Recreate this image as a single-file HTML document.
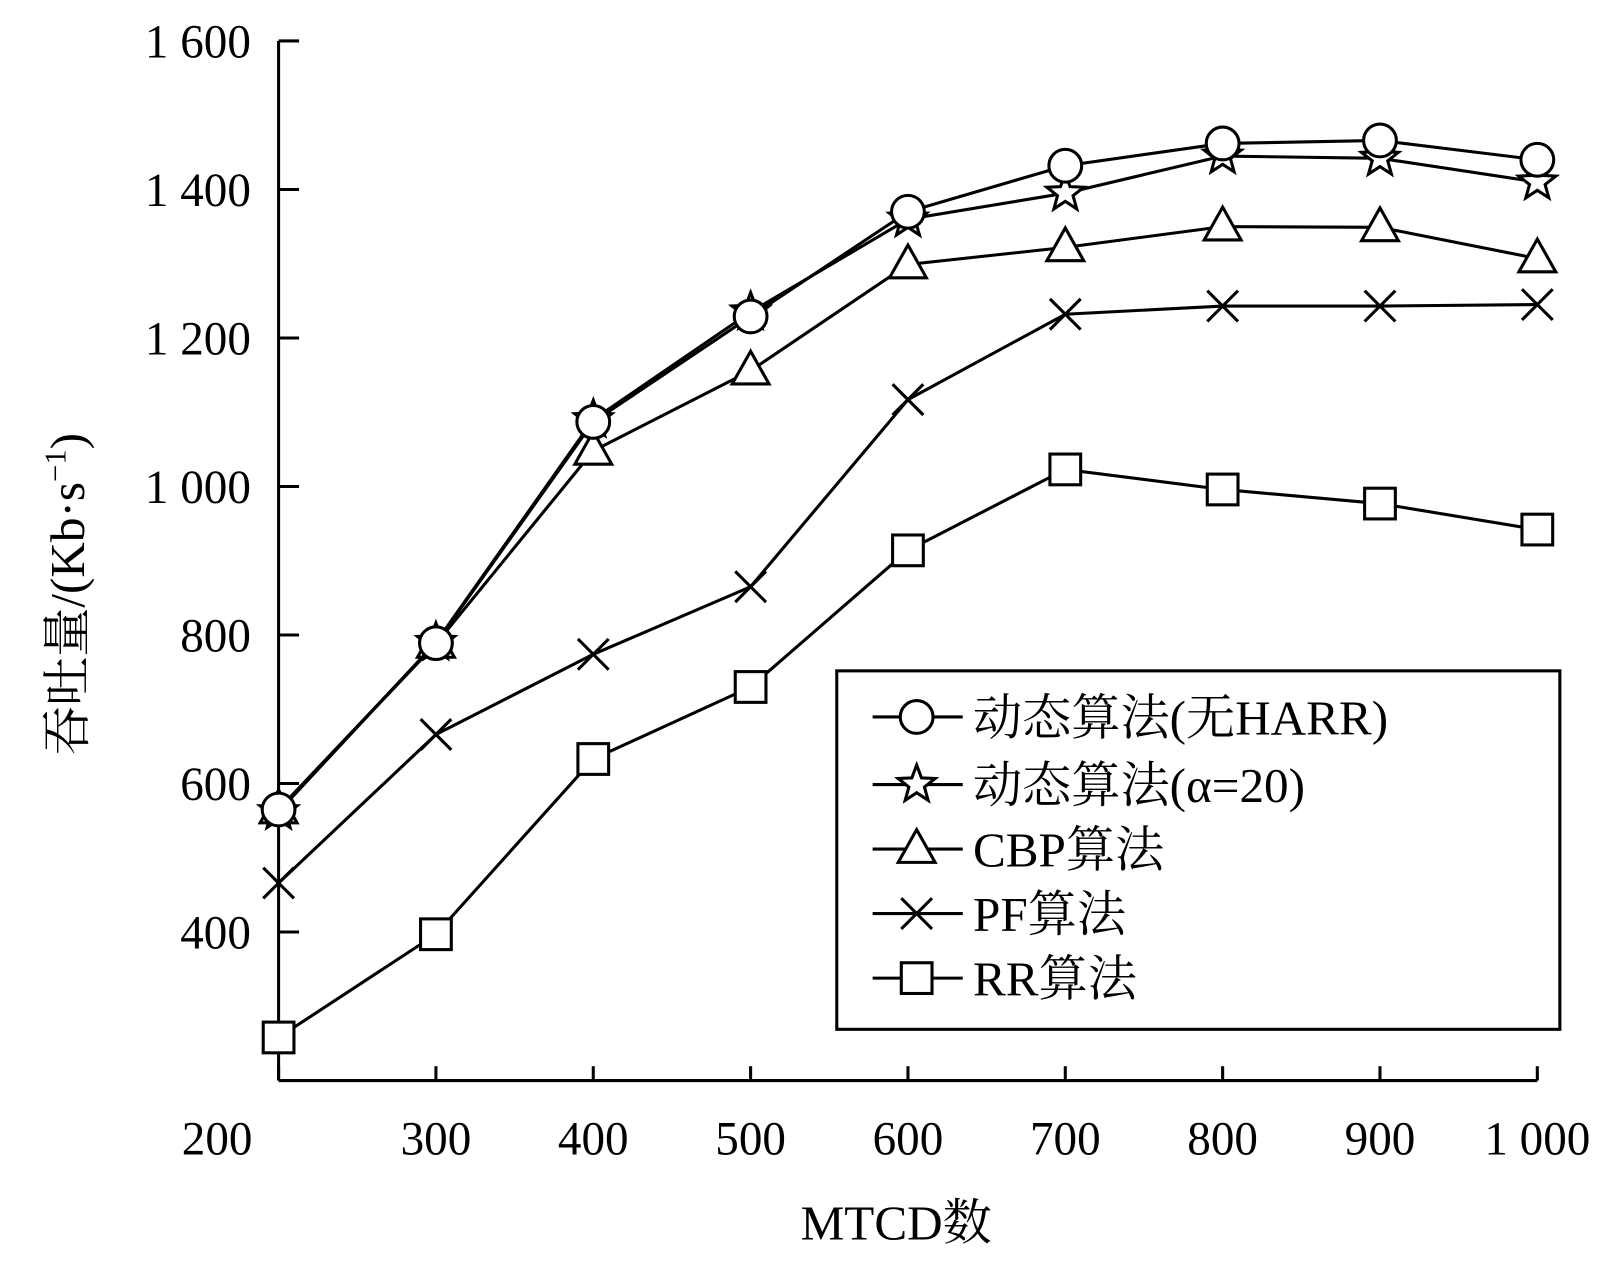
<!DOCTYPE html>
<html><head><meta charset="utf-8"><style>
html,body{margin:0;padding:0;background:#fff;}
svg text{font-family:"Liberation Serif","Noto Serif CJK SC",serif;fill:#000;}
</style></head><body>
<svg id="chart" width="1606" height="1257" viewBox="0 0 1606 1257" xmlns="http://www.w3.org/2000/svg">
<g transform="scale(1.0242)">
<g id="axes"></g>
<g id="series"></g>
<g id="legend"></g>
</g>
</svg>
<script>
const categories = [200,300,400,500,600,700,800,900,1000];
const dynNoHarr = [565,789,1087,1229,1370,1432,1462,1466,1440];
const dynAlpha = [562,790,1090,1235,1360,1395,1445,1442,1410];
const cbp = [565,788,1048,1156,1299,1322,1350,1349,1307];
const pf = [466,666,774,865,1117,1232,1243,1243,1245];
const rr = [258,397,633,730,914,1023,996,977,942];
const yTicks = [400,600,800,1000,1200,1400,1600];
const yTickLabels = ["400","600","800","1 000","1 200","1 400","1 600"];
const xTickLabels = ["200","300","400","500","600","700","800","900","1 000"];
const seriesNames = ["动态算法(无HARR)","动态算法(α=20)","CBP算法","PF算法","RR算法"];

const NS="http://www.w3.org/2000/svg";
const x0=272,x1=1501,y0=1055,y1=40;
function xs(v){return x0+(v-200)/(1000-200)*(x1-x0);}
function ys(v){return y0-(v-200)/(1600-200)*(y0-y1);}
function mk(tag,attrs,parent){const e=document.createElementNS(NS,tag);for(const k in attrs)e.setAttribute(k,attrs[k]);parent.appendChild(e);return e;}
const axes=document.getElementById('axes'),ser=document.getElementById('series'),leg=document.getElementById('legend');
const st={stroke:'#000','stroke-width':3,fill:'none'};

let a=mk('line',{x1:x0,y1:y1,x2:x0,y2:y0,...st},axes);


a=mk('line',{x1:x0,y1:y0,x2:x1,y2:y0,...st},axes);


yTicks.forEach((v,i)=>{
  let t=mk('line',{x1:x0,y1:ys(v),x2:x0+20,y2:ys(v),...st},axes);
  
  
  let l=mk('text',{x:245,y:ys(v)+16,'text-anchor':'end','font-size':46},axes);
  l.textContent=yTickLabels[i];
  
  
});
categories.forEach((v,i)=>{
  let t=mk('line',{x1:xs(v),y1:y0,x2:xs(v),y2:y0-14,...st},axes);
  
  
  let lx=i===0?xs(v)-60:xs(v);
  let l=mk('text',{x:lx,y:1127,'text-anchor':'middle','font-size':46},axes);
  l.textContent=xTickLabels[i];
  
  
});
let xt=mk('text',{x:875,y:1210,'text-anchor':'middle','font-size':48},axes);
xt.textContent='MTCD数';


let yt=mk('text',{x:0,y:0,'text-anchor':'middle','font-size':48,transform:'translate(82,580) rotate(-90)'},axes);
yt.innerHTML='吞吐量/(Kb·s<tspan dy="-18" font-size="30">−1</tspan><tspan dy="18">)</tspan>';



function marker(type,cx,cy,parent){
  let e;
  if(type==='circle')e=mk('circle',{cx:cx,cy:cy,r:16,...st,fill:'#fff'},parent);
  else if(type==='star'){let p=[];for(let k=0;k<10;k++){let r=k%2?8:19,an=-Math.PI/2+k*Math.PI/5;p.push((cx+r*Math.cos(an)).toFixed(1)+','+(cy+r*Math.sin(an)).toFixed(1));}e=mk('polygon',{points:p.join(' '),...st,fill:'#fff'},parent);}
  else if(type==='tri')e=mk('polygon',{points:`${cx},${cy-19} ${cx-18},${cy+13} ${cx+18},${cy+13}`,...st,fill:'#fff'},parent);
  else if(type==='x')e=mk('path',{d:`M${cx-15},${cy-15}L${cx+15},${cy+15}M${cx-15},${cy+15}L${cx+15},${cy-15}`,...st},parent);
  else e=mk('rect',{x:cx-15,y:cy-15,width:30,height:30,...st,fill:'#fff'},parent);
  
  
}
const all=[[rr,'sq'],[pf,'x'],[cbp,'tri'],[dynAlpha,'star'],[dynNoHarr,'circle']];
all.forEach(([d,m])=>{
  const g=mk('g',{},ser);
  
  
  const pl=mk('polyline',{points:d.map((v,i)=>xs(categories[i])+','+ys(v)).join(' '),...st},g);
  
  
  d.forEach((v,i)=>marker(m,xs(categories[i]),ys(v),g));
});
let box=mk('rect',{x:817,y:655,width:706,height:350,...st,fill:'#fff'},leg);


const lm=['circle','star','tri','x','sq'];
const ly=[700,766,829,892,955];
seriesNames.forEach((n,i)=>{
  const g=mk('g',{},leg);
  
  
  mk('line',{x1:852,y1:ly[i],x2:940,y2:ly[i],...st},g);
  marker(lm[i],895,ly[i],g);
  const t=mk('text',{x:950,y:ly[i]+17,'font-size':48},g);
  t.textContent=n;
});
</script>
</body></html>
